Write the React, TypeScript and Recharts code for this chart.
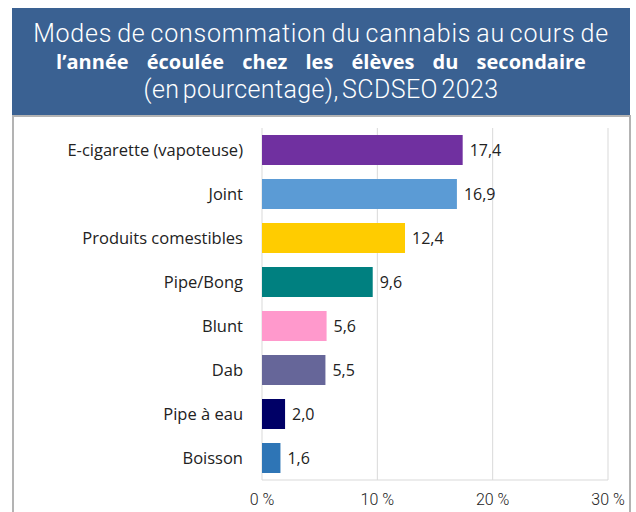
import React from "react";
import { BarChart, Bar, XAxis, YAxis, CartesianGrid, Cell, LabelList } from "recharts";

const modes = [
  "E-cigarette (vapoteuse)",
  "Joint",
  "Produits comestibles",
  "Pipe/Bong",
  "Blunt",
  "Dab",
  "Pipe à eau",
  "Boisson",
];
const percents = [17.4, 16.9, 12.4, 9.6, 5.6, 5.5, 2.0, 1.6];
const barColors = ["#7030a0", "#5b9bd5", "#ffcc00", "#008080", "#ff99cc", "#666699", "#000066", "#2e75b6"];
const xTicks = [0, 10, 20, 30];

const data = modes.map((mode, i) => ({ mode, value: percents[i] }));

const labelFont = "Open Sans, sans-serif";

export default function App() {
  return (
    <div style={{ position: "absolute", left: 0, top: 0, width: 636, height: 512, background: "#fff", overflow: "hidden" }}>
      <div
        style={{
          position: "absolute",
          left: 12,
          top: 8,
          width: 618,
          height: 108,
          background: "#3a6192",
          color: "#fff",
          textAlign: "center",
        }}
      >
        <div style={{ fontFamily: "Roboto, sans-serif", fontWeight: 300, fontSize: 25, lineHeight: "28px", marginTop: 12, letterSpacing: 0.8, wordSpacing: -2 }}>
          Modes de consommation du cannabis au cours de
        </div>
        <div style={{ fontFamily: labelFont, fontWeight: 700, fontSize: 20, lineHeight: "27px", wordSpacing: 13 }}>
          l’année écoulée chez les élèves du secondaire
        </div>
        <div style={{ fontFamily: "Roboto, sans-serif", fontWeight: 300, fontSize: 25, lineHeight: "29px", letterSpacing: 0.4, wordSpacing: -3 }}>
          (en pourcentage), SCDSEO 2023
        </div>
      </div>
      <div
        style={{
          position: "absolute",
          left: 12,
          top: 115,
          width: 615,
          height: 410,
          border: "2px solid #b3b3b3",
          background: "#fff",
        }}
      />
      <div style={{ position: "absolute", left: 0, top: 0 }}>
        <BarChart
          width={636}
          height={512}
          data={data}
          layout="vertical"
          margin={{ top: 128, right: 28, bottom: 2, left: 0 }}
        >
          <CartesianGrid horizontal={false} stroke="#d9d9d9" />
          <XAxis
            type="number"
            domain={[0, 30]}
            ticks={xTicks}
            tickFormatter={(v: number) => `${v} %`}
            axisLine={{ stroke: "#d9d9d9" }}
            tickLine={false}
            tickSize={0}
            tickMargin={14}
            height={30}
            tick={{ fontSize: 16, fill: "#222", fontFamily: "Roboto, sans-serif", fontWeight: 300 }}
          />
          <YAxis
            type="category"
            dataKey="mode"
            width={262}
            axisLine={false}
            tickLine={false}
            tickSize={0}
            tickMargin={19}
            tick={{ fontSize: 16.5, fill: "#222", fontFamily: labelFont }}
          />
          <Bar dataKey="value" barSize={30} isAnimationActive={false}>
            {data.map((d, i) => (
              <Cell key={d.mode} fill={barColors[i]} />
            ))}
            <LabelList
              dataKey="value"
              position="right"
              offset={7}
              formatter={(v: number) => v.toFixed(1).replace(".", ",")}
              style={{ fontSize: 16, fill: "#222", fontFamily: labelFont }}
            />
          </Bar>
        </BarChart>
      </div>
    </div>
  );
}
